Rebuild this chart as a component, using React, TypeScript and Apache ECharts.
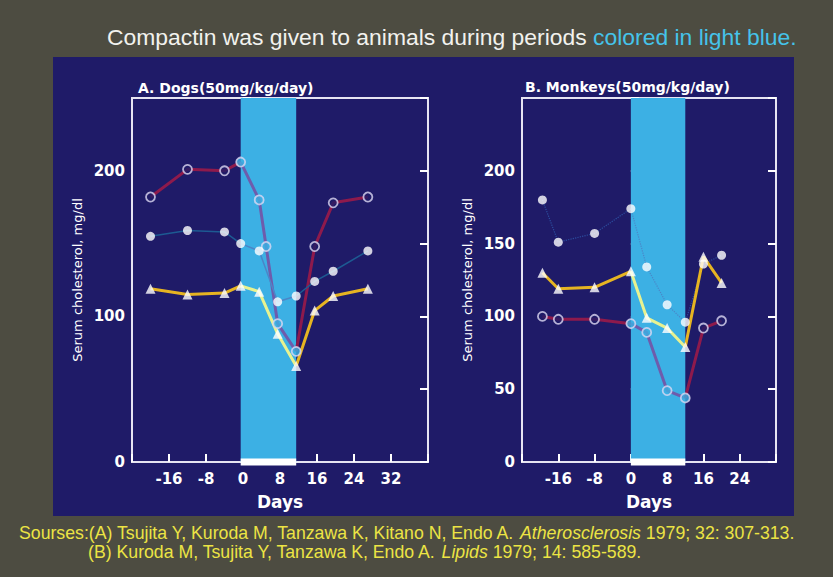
import React, { useEffect, useRef } from "react";
import * as echarts from "echarts";

// ---- data ----
const dogDays = [-20, -12, -4, -0.5, 3.5, 7.5, 11.5, 15.5, 19.5, 27];
const dogOpenDays = [-20, -12, -4, -0.5, 3.5, 5, 7.5, 11.5, 15.5, 19.5, 27];
const dogOpenChol = [182, 201, 200, 206, 180, 148, 95, 76, 148, 178, 182];
const dogFilledChol = [155, 159, 158, 150, 145, 110, 114, 124, 131, 145];
const dogTriangleChol = [119, 115, 116, 121, 117, 88, 66, 104, 114, 119];
const dogTreatment = [-0.5, 11.5];

const monkeyDays = [-19.5, -16, -8, 0, 3.5, 8, 12, 16, 20];
const monkeyOpenChol = [100, 98, 98, 95, 89, 49, 44, 92, 97];
const monkeyFilledChol = [180, 151, 157, 174, 134, 108, 96, 136, 142];
const monkeyTriangleChol = [130, 119, 120, 131, 99, 92, 79, 141, 123];
const monkeyTreatment = [0, 12];

const dogXLabels = [-16, -8, 0, 8, 16, 24, 32];
const monkeyXLabels = [-16, -8, 0, 8, 16, 24];
const dogYLabels = [0, 100, 200];
const monkeyYLabels = [0, 50, 100, 150, 200];

// ---- styles ----
const OUTER = "#4d4c41";
const NAVY = "#1f1b68";
const BAND = "#3cb0e4";
const WHITE = "#ffffff";
const FRAME = "#e6e4f2";
const NUM_FONT = "DejaVu Sans";
const TEXT_FONT = "Liberation Sans";

type Style = {
  out: string;
  inn: string;
  width: number;
  type?: "solid" | "dotted";
};

const openStyle: Style = { out: "#8e1a4c", inn: "#6e5cac", width: 3 };
const filledStyleA: Style = { out: "#1d5a92", inn: "#4a86c8", width: 1.5 };
const filledStyleB: Style = { out: "#2c4fa0", inn: "#4a86c8", width: 1.2, type: "dotted" };
const triStyle: Style = { out: "#e6b422", inn: "#e8f290", width: 3 };

function runs(days: number[], vals: number[], band: number[]) {
  const inside = (d: number) => d >= band[0] - 0.01 && d <= band[1] + 0.01;
  const out: { inside: boolean; data: number[][] }[] = [];
  for (let i = 0; i < days.length - 1; i++) {
    const isIn = inside(days[i]) && inside(days[i + 1]);
    const last = out[out.length - 1];
    if (last && last.inside === isIn) {
      last.data.push([days[i + 1], vals[i + 1]]);
    } else {
      out.push({ inside: isIn, data: [[days[i], vals[i]], [days[i + 1], vals[i + 1]]] });
    }
  }
  return out;
}

function lineSeries(days: number[], vals: number[], band: number[], st: Style, xi: number, yi: number) {
  return runs(days, vals, band).map((r) => ({
    type: "line",
    xAxisIndex: xi,
    yAxisIndex: yi,
    data: r.data,
    symbol: "none",
    z: 3,
    silent: true,
    lineStyle: { color: r.inside ? st.inn : st.out, width: st.width, type: st.type || "solid" },
  }));
}

function markerSeries(days: number[], vals: number[], band: number[], kind: "open" | "filled" | "tri", xi: number, yi: number) {
  const inside = (d: number) => d >= band[0] - 0.01 && d <= band[1] + 0.01;
  const base: any = {
    type: "scatter",
    xAxisIndex: xi,
    yAxisIndex: yi,
    data: days.map((d, i) => [d, vals[i]]),
    z: 4,
    silent: true,
  };
  if (kind === "open") {
    base.symbol = "circle";
    base.symbolSize = 9;
    base.itemStyle = {
      color: (p: any) => (inside(p.value[0]) ? BAND : NAVY),
      borderColor: "#dcd8f2",
      borderWidth: 1.8,
    };
  } else if (kind === "filled") {
    base.symbol = "circle";
    base.symbolSize = 9;
    base.itemStyle = { color: WHITE };
  } else {
    base.symbol = "triangle";
    base.symbolSize = 10;
    base.itemStyle = { color: WHITE };
  }
  return base;
}

function bandSeries(band: number[], xi: number, yi: number) {
  return [
    {
      type: "line",
      xAxisIndex: xi,
      yAxisIndex: yi,
      data: [],
      z: -1,
      silent: true,
      markArea: {
        silent: true,
        itemStyle: { color: BAND, opacity: 1 },
        data: [[{ xAxis: band[0] }, { xAxis: band[1] }]],
      },
    },
    {
      type: "line",
      xAxisIndex: xi,
      yAxisIndex: yi,
      data: [
        [band[0], 0],
        [band[1], 0],
      ],
      symbol: "none",
      clip: false,
      z: 5,
      silent: true,
      lineStyle: { color: WHITE, width: 7 },
    },
  ];
}

function xAxis(gridIndex: number, max: number, labels: number[]) {
  return {
    type: "value",
    gridIndex,
    min: -24,
    max,
    interval: 8,
    axisLine: { show: false },
    splitLine: { show: false },
    axisTick: { show: true, inside: true, length: 8, lineStyle: { color: WHITE, width: 2 } },
    axisLabel: {
      color: WHITE,
      fontFamily: NUM_FONT,
      fontWeight: "bold",
      fontSize: 15,
      margin: 9,
      formatter: (v: number) => (labels.includes(v) ? String(v) : ""),
    },
    name: "Days",
    nameLocation: "middle",
    nameGap: 31,
    nameTextStyle: { color: WHITE, fontFamily: NUM_FONT, fontWeight: "bold", fontSize: 17 },
  };
}

function yAxis(gridIndex: number, position: "left" | "right", labels: number[]) {
  const left = position === "left";
  return {
    type: "value",
    gridIndex,
    position,
    min: 0,
    max: 250,
    interval: 50,
    axisLine: { show: false },
    splitLine: { show: false },
    axisTick: { show: true, inside: true, length: 8, lineStyle: { color: WHITE, width: 2 } },
    axisLabel: {
      show: left,
      color: WHITE,
      fontFamily: NUM_FONT,
      fontWeight: "bold",
      fontSize: 15,
      margin: 7,
      formatter: (v: number) => (labels.includes(v) ? String(v) : ""),
    },
    name: left ? "Serum cholesterol, mg/dl" : "",
    nameLocation: "middle",
    nameGap: 48,
    nameTextStyle: { color: WHITE, fontFamily: NUM_FONT, fontSize: 13 },
  };
}

const srcRich = {
  y: { color: "#ece444", fontSize: 17.7, fontFamily: TEXT_FONT, fontWeight: "normal" },
  i: { color: "#ece444", fontSize: 17.7, fontFamily: TEXT_FONT, fontWeight: "normal", fontStyle: "italic" },
};

export default function App() {
  const ref = useRef<HTMLDivElement>(null);
  useEffect(() => {
    if (!ref.current) return;
    const chart = echarts.init(ref.current, undefined, { renderer: "svg" });
    const series: any[] = [
      ...bandSeries(dogTreatment, 0, 0),
      ...lineSeries(dogOpenDays, dogOpenChol, dogTreatment, openStyle, 0, 0),
      ...lineSeries(dogDays, dogFilledChol, dogTreatment, filledStyleA, 0, 0),
      ...lineSeries(dogDays, dogTriangleChol, dogTreatment, triStyle, 0, 0),
      markerSeries(dogOpenDays, dogOpenChol, dogTreatment, "open", 0, 0),
      markerSeries(dogDays, dogFilledChol, dogTreatment, "filled", 0, 0),
      markerSeries(dogDays, dogTriangleChol, dogTreatment, "tri", 0, 0),

      ...bandSeries(monkeyTreatment, 1, 2),
      ...lineSeries(monkeyDays, monkeyOpenChol, monkeyTreatment, openStyle, 1, 2),
      ...lineSeries(monkeyDays, monkeyFilledChol, monkeyTreatment, filledStyleB, 1, 2),
      ...lineSeries(monkeyDays, monkeyTriangleChol, monkeyTreatment, triStyle, 1, 2),
      markerSeries(monkeyDays, monkeyOpenChol, monkeyTreatment, "open", 1, 2),
      markerSeries(monkeyDays, monkeyFilledChol, monkeyTreatment, "filled", 1, 2),
      markerSeries(monkeyDays, monkeyTriangleChol, monkeyTreatment, "tri", 1, 2),
    ];
    chart.setOption({
      animation: false,
      backgroundColor: OUTER,
      graphic: [
        {
          type: "rect",
          z: -10,
          silent: true,
          shape: { x: 53, y: 57, width: 741, height: 459 },
          style: { fill: NAVY },
        },
      ],
      title: [
        {
          left: 107,
          top: 25,
          padding: 0,
          text: "{w|Compactin was given to animals during periods }{b|colored in light blue.}",
          textStyle: {
            fontWeight: "normal",
            rich: {
              w: { color: "#f2f2ee", fontSize: 22.9, fontFamily: TEXT_FONT, fontWeight: "normal" },
              b: { color: "#45c3ea", fontSize: 22.9, fontFamily: TEXT_FONT, fontWeight: "normal" },
            },
          },
        },
        {
          left: 138,
          top: 81,
          padding: 0,
          text: "A. Dogs(50mg/kg/day)",
          textStyle: { color: WHITE, fontSize: 14, fontWeight: "bold", fontFamily: NUM_FONT },
        },
        {
          left: 525,
          top: 80,
          padding: 0,
          text: "B. Monkeys(50mg/kg/day)",
          textStyle: { color: WHITE, fontSize: 14, fontWeight: "bold", fontFamily: NUM_FONT },
        },
        {
          left: 19,
          top: 524,
          padding: 0,
          text: "{y|Sourses:(A) Tsujita Y, Kuroda M, Tanzawa K, Kitano N, Endo A. }{i|Atherosclerosis}{y| 1979; 32: 307-313.}",
          textStyle: { fontWeight: "normal", rich: srcRich },
        },
        {
          left: 88,
          top: 543,
          padding: 0,
          text: "{y|(B) Kuroda M, Tsujita Y, Tanzawa K, Endo A. }{i|Lipids}{y| 1979; 14: 585-589.}",
          textStyle: { fontWeight: "normal", rich: srcRich },
        },
      ],
      grid: [
        { left: 132, top: 98, width: 296, height: 364, show: true, borderColor: FRAME, borderWidth: 2, backgroundColor: "transparent" },
        { left: 522, top: 98, width: 254, height: 364, show: true, borderColor: FRAME, borderWidth: 2, backgroundColor: "transparent" },
      ],
      xAxis: [xAxis(0, 40, dogXLabels), xAxis(1, 32, monkeyXLabels)],
      yAxis: [
        yAxis(0, "left", dogYLabels),
        yAxis(0, "right", dogYLabels),
        yAxis(1, "left", monkeyYLabels),
        yAxis(1, "right", monkeyYLabels),
      ],
      series,
    });
    return () => chart.dispose();
  }, []);
  return (
    <div
      ref={ref}
      style={{ position: "fixed", left: 0, top: 0, width: 833, height: 577 }}
    />
  );
}
